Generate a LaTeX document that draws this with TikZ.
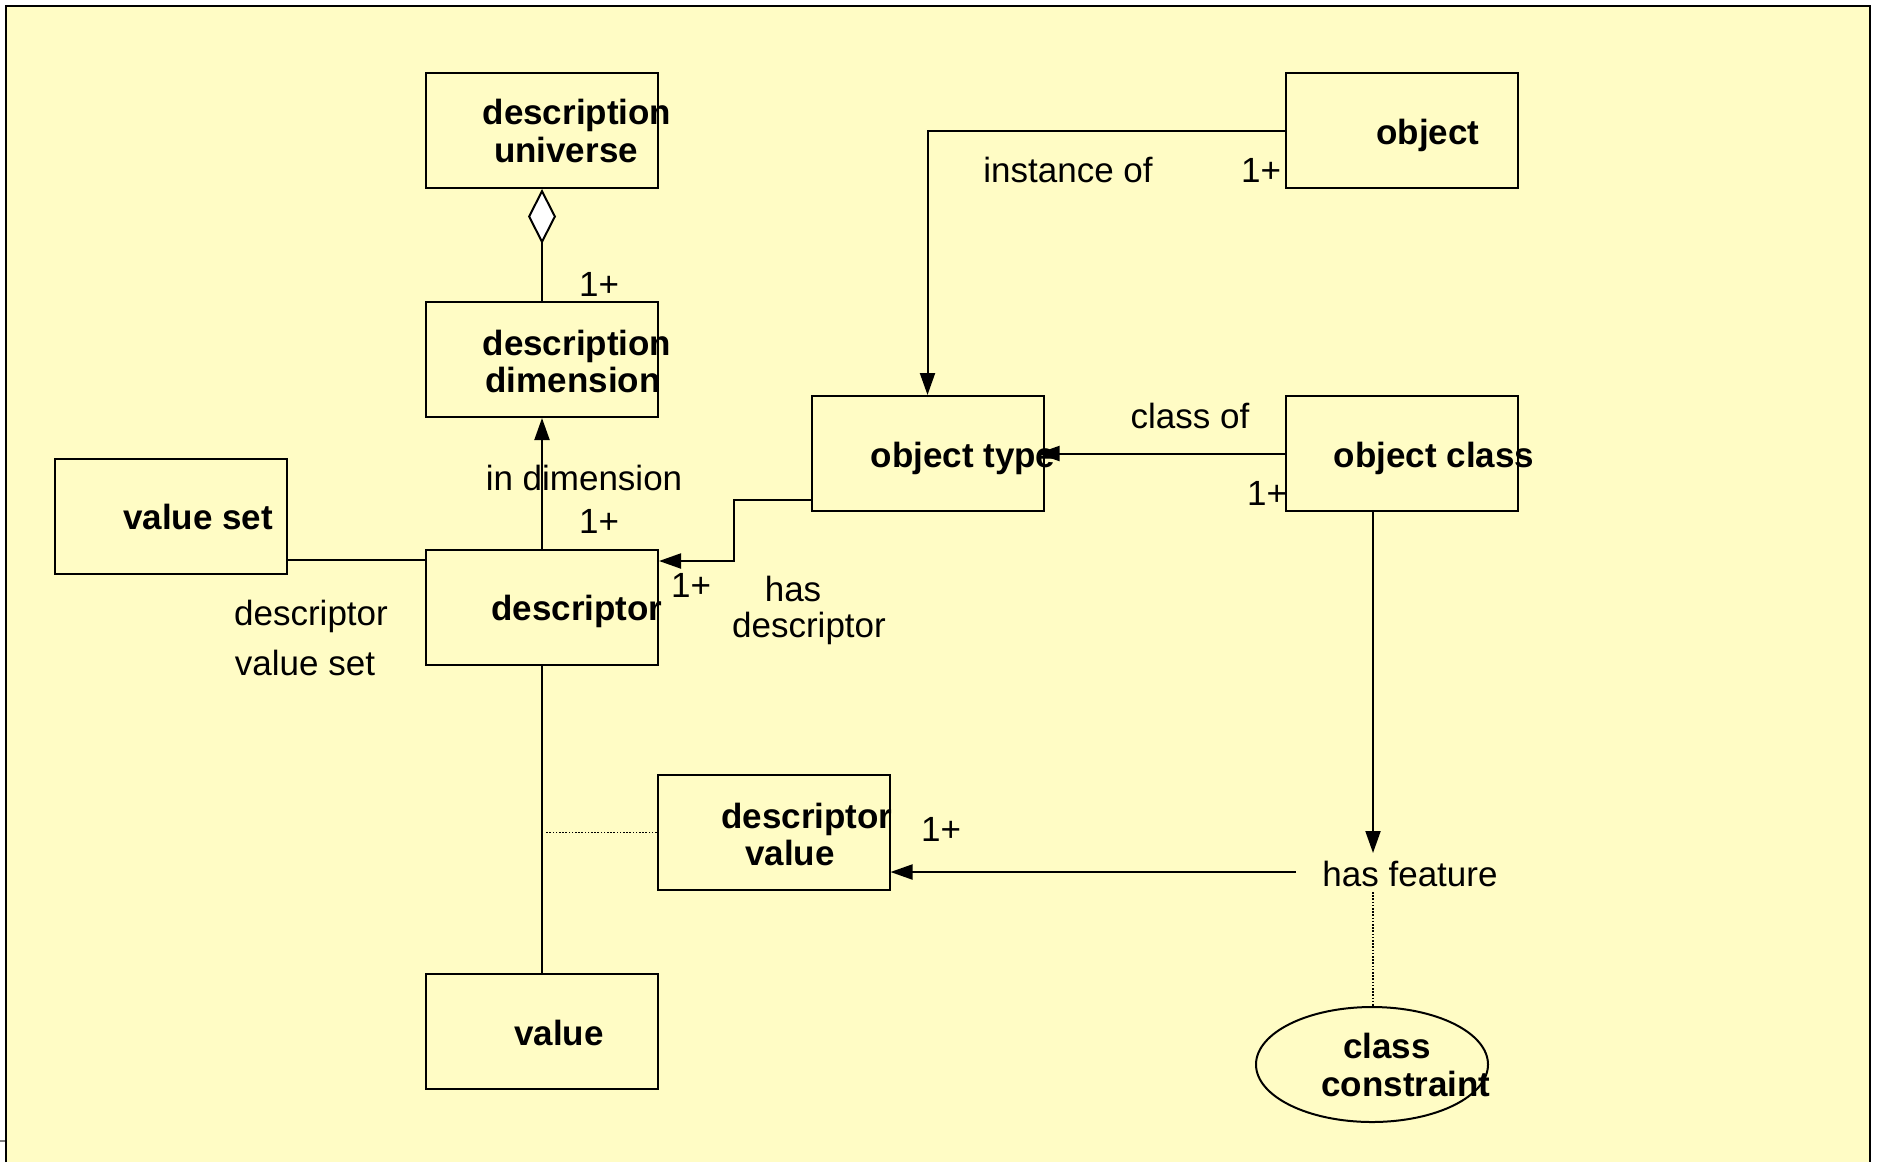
\documentclass[tikz,border=0pt]{standalone}
\usepackage{fontspec}
\setmainfont{Liberation Sans}
\usetikzlibrary{arrows.meta,shapes.geometric}
\definecolor{paper}{RGB}{255,252,197}
\begin{document}
\begin{tikzpicture}[x=0.5pt,y=-0.5pt,
  box/.style={draw,line width=1pt,minimum width=116pt,minimum height=57.5pt,inner sep=0pt},
  oval/.style={ellipse,draw,line width=1pt,minimum width=116pt,minimum height=57.5pt,inner sep=0pt},
  boxtext/.style={font=\fontsize{17.5pt}{18.5pt}\selectfont\bfseries,anchor=base,inner sep=0pt},
  lbltext/.style={font=\fontsize{17.5pt}{18.5pt}\selectfont,anchor=base,inner sep=0pt},
  link/.style={line width=1pt},
  arr/.style={link,-{Triangle[length=11pt,width=7.5pt]}},
  agg/.style={link,-{Diamond[length=27.5pt,width=14pt,fill=white]}},
  dots/.style={line width=0.8pt,dash pattern=on 0.8pt off 0.8pt},
]
% page and frame
\useasboundingbox (0,0) rectangle (1878,1162);
\fill[white] (0,0) rectangle (1878,1162);
\fill[paper] (6,6) rectangle (1870,1162);
\draw[line width=1.25pt] (6,1162) -- (6,6) -- (1870,6) -- (1870,1162);
\draw[gray,line width=1pt] (0,1141) -- (5,1141);

% class boxes
\node[box] (du) at (542,130.5) {};
\node[box] (dd) at (542,359.5) {};
\node[box] (vs) at (171,516.5) {};
\node[box] (d)  at (542,607) {};
\node[box] (dv) at (773.5,832.5) {};
\node[box] (v)  at (542,1031.5) {};
\node[box] (ot) at (927.5,453.5) {};
\node[box] (ob) at (1402,130.5) {};
\node[box] (oc) at (1402,453.5) {};
\node[oval] (cc) at (1372,1064.5) {};

% box captions
\node[boxtext] (du-a) at (577,124) {description};
\node[boxtext] (du-b) at (566,162) {universe};
\node[boxtext] (dd-a) at (577,355) {description};
\node[boxtext] (dd-b) at (573,392) {dimension};
\node[boxtext] (vs-t) at (198,529) {value set};
\node[boxtext] (d-t)  at (577,620) {descriptor};
\node[boxtext] (dv-a) at (807,828) {descriptor};
\node[boxtext] (dv-b) at (790,865) {value};
\node[boxtext] (v-t)  at (559,1045) {value};
\node[boxtext] (ot-t) at (963,467) {object type};
\node[boxtext] (ob-t) at (1428,144) {object};
\node[boxtext] (oc-t) at (1434,467) {object class};
\node[boxtext] (cc-a) at (1387,1058) {class};
\node[boxtext] (cc-b) at (1406,1096) {constraint};

% association labels and multiplicities
\node[lbltext] (m1) at (599,296) {1+};
\node[lbltext] (l-indim) at (584,490) {in dimension};
\node[lbltext] (m2) at (599,533) {1+};
\node[lbltext] (l-dvs1) at (311,625) {descriptor};
\node[lbltext] (l-dvs2) at (305,675) {value set};
\node[lbltext] (m3) at (691,597) {1+};
\node[lbltext] (l-hd1) at (793,601) {has};
\node[lbltext] (l-hd2) at (809,637) {descriptor};
\node[lbltext] (l-inst) at (1068,182) {instance of};
\node[lbltext] (m4) at (1261,182) {1+};
\node[lbltext] (l-cls) at (1190,428) {class of};
\node[lbltext] (m5) at (1267,505) {1+};
\node[lbltext] (m6) at (941,841) {1+};
\node[lbltext] (hf) at (1410,886) {has feature};

% helper points for off-centre attachments
\coordinate (vsj) at (287,560);
\coordinate (hdo) at (812,500);
\coordinate (hdi) at (658,561);
\coordinate (hdbend) at (734,0);
\coordinate (hfin) at (1373,853);
\coordinate (hfl) at (1296,872);
\coordinate (hfb) at (1373,892);

% connectors
\draw[agg] (dd.north) -- (du.south);
\draw[arr] (d.north) -- (dd.south);
\draw[link] (vsj) -- (vsj -| d.west);
\draw[arr] (hdo -| ot.west) -- (hdo -| hdbend) -- (hdi -| hdbend) -- (hdi -| d.east);
\draw[arr] (ob.west) -| (ot.north);
\draw[arr,shorten >=-3.5pt] (oc.west) -- (ot.east);
\draw[arr] (oc.south -| hfin) -- (hfin);
\draw[arr] (hfl) -- (hfl -| dv.east);
\draw[dots] (hfb) -- (hfb |- cc.north);
\draw[link] (d.south) -- (v.north);
\draw[dots,shorten >=1.5pt] (dv.west) -- (dv.west -| d.south);
\end{tikzpicture}
\end{document}
